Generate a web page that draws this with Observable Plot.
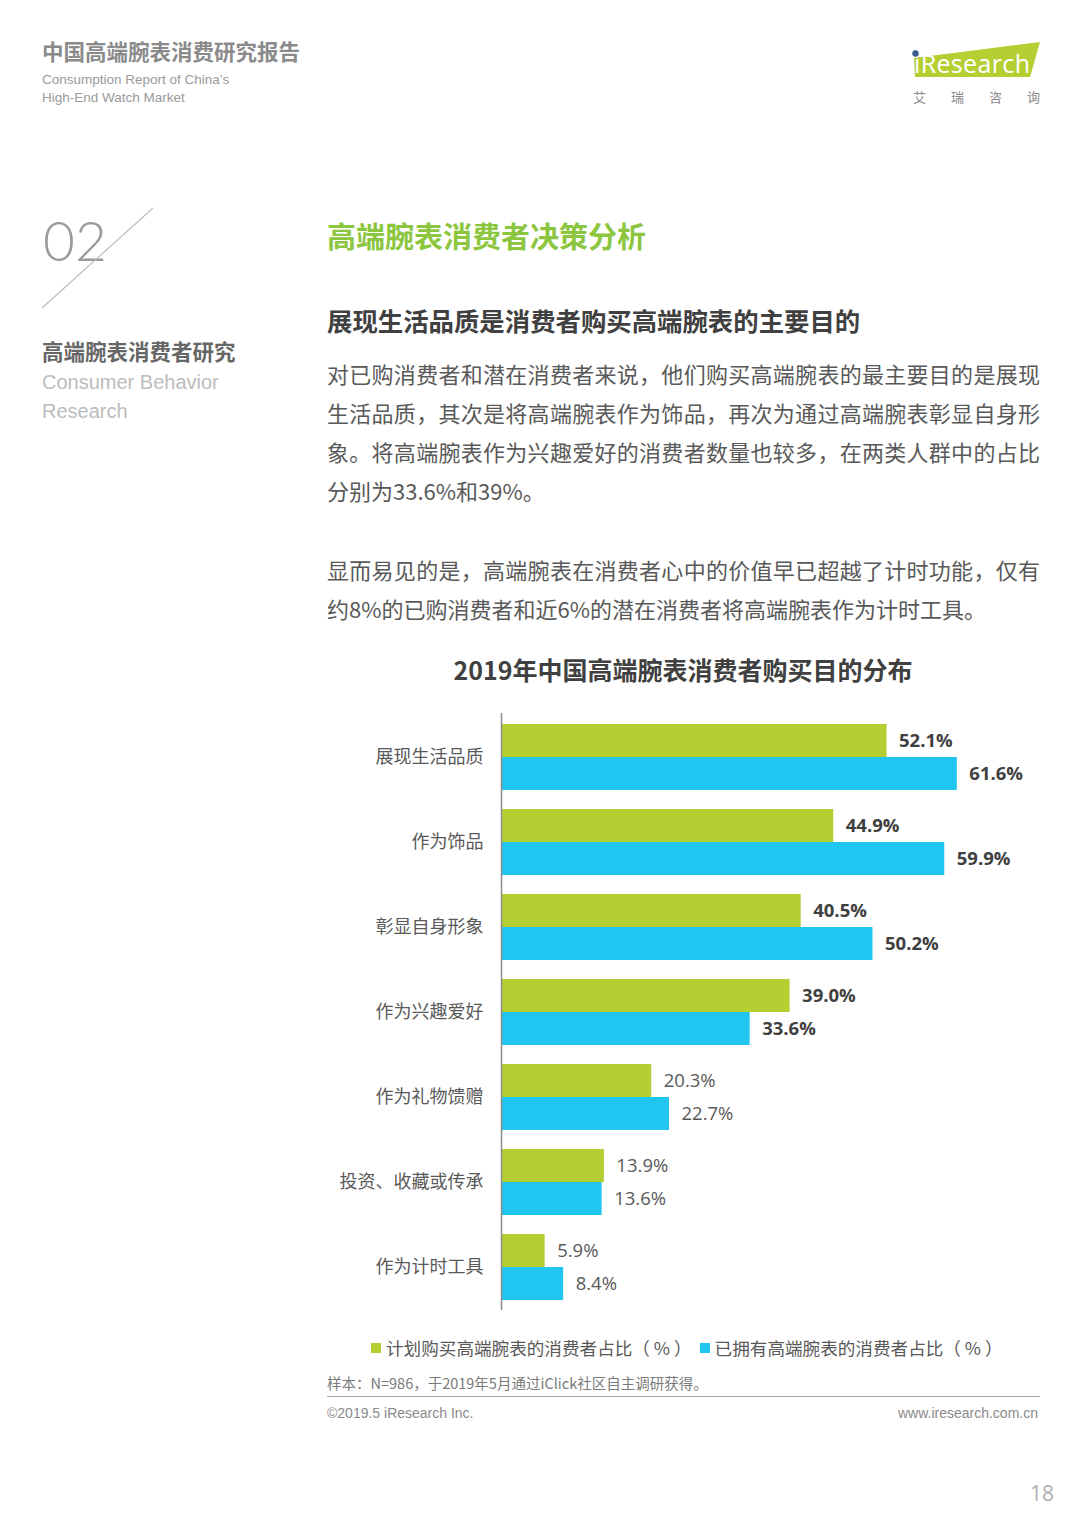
<!DOCTYPE html>
<html>
<head>
<meta charset="utf-8">
<script src="https://cdn.jsdelivr.net/npm/d3@7"></script>
<script src="https://cdn.jsdelivr.net/npm/@observablehq/plot@0.6"></script>
<style>
  html, body { margin: 0; padding: 0; background: #fff; }
  body { width: 1080px; height: 1528px; position: relative; overflow: hidden;
         font-family: "Noto Sans CJK SC", "Noto Sans", sans-serif; }
  .abs { position: absolute; white-space: nowrap; }
  .para { position: absolute; left: 327px; width: 713px; font-size: 22px; line-height: 39px; color: #595959; }
  .para .ln { display: block; height: 39px; text-align: justify; text-align-last: justify; }
  .para .ln.last { text-align-last: left; }
  #legend { position: absolute; top: 1335px; left: 371px; display: flex; white-space: nowrap; font-size: 17.6px; color: #595959; }
  #legend span.sw { display: inline-block; width: 10px; height: 10px; margin-right: 5px; vertical-align: middle; position: relative; top: -2px; }
  #legend span.item + span.item { margin-left: 8px; }
  #chart { position: absolute; left: 0; top: 700px; }
</style>
</head>
<body>
<!-- header -->
<div class="abs" style="left:42px; top:35px; font-size:21.5px; font-weight:700; color:#8a8a8a;">中国高端腕表消费研究报告</div>
<div class="abs" style="left:42px; top:71px; font-size:13.5px; color:#9a9a9a; font-family:'Liberation Sans', Arial, sans-serif; line-height:18px;">Consumption Report of China’s<br>High-End Watch Market</div>

<!-- logo -->
<svg class="abs" style="left:900px; top:36px;" width="160" height="75" viewBox="0 0 160 75">
  <polygon points="14,22 140,6 130,41 15,41" fill="#b5cf33"/>
  <circle cx="15.5" cy="17.5" r="3.2" fill="#3b5b8f"/>
  <text x="14" y="37" font-family="Open Sans, sans-serif" font-size="25" fill="#fff" textLength="116">ıResearch</text>
  <text x="13" y="66" font-family="Noto Sans CJK SC" font-size="13" fill="#8a8a8a">艾</text>
  <text x="51" y="66" font-family="Noto Sans CJK SC" font-size="13" fill="#8a8a8a">瑞</text>
  <text x="89" y="66" font-family="Noto Sans CJK SC" font-size="13" fill="#8a8a8a">咨</text>
  <text x="127" y="66" font-family="Noto Sans CJK SC" font-size="13" fill="#8a8a8a">询</text>
</svg>

<!-- sidebar -->
<div class="abs" style="left:43px; top:205px; font-size:55px; font-weight:300; color:#9a9a9a; font-family:'Lato', 'Open Sans', sans-serif; line-height:70px;">02</div>
<svg class="abs" style="left:40px; top:206px;" width="116" height="104"><line x1="113" y1="2" x2="2" y2="102" stroke="#bdbdbd" stroke-width="1.2"/></svg>
<div class="abs" style="left:42px; top:335px; font-size:21.5px; font-weight:700; color:#666;">高端腕表消费者研究</div>
<div class="abs" style="left:42px; top:368px; font-size:20px; color:#bcbcbc; font-family:'Liberation Sans', Arial, sans-serif; line-height:29px;">Consumer Behavior<br>Research</div>

<!-- titles -->
<div class="abs" style="left:327px; top:214px; font-size:29px; font-weight:700; color:#8cc63f;">高端腕表消费者决策分析</div>
<div class="abs" style="left:327px; top:302px; font-size:25.4px; font-weight:700; color:#404040;">展现生活品质是消费者购买高端腕表的主要目的</div>

<div class="para" style="top:354px;">
  <span class="ln">对已购消费者和潜在消费者来说，他们购买高端腕表的最主要目的是展现</span>
  <span class="ln">生活品质，其次是将高端腕表作为饰品，再次为通过高端腕表彰显自身形</span>
  <span class="ln">象。将高端腕表作为兴趣爱好的消费者数量也较多，在两类人群中的占比</span>
  <span class="ln last">分别为33.6%和39%。</span>
</div>
<div class="para" style="top:550px;">
  <span class="ln">显而易见的是，高端腕表在消费者心中的价值早已超越了计时功能，仅有</span>
  <span class="ln last">约8%的已购消费者和近6%的潜在消费者将高端腕表作为计时工具。</span>
</div>

<div class="abs" style="left:0; width:1366px; text-align:center; top:651px; font-size:25px; font-weight:700; color:#404040;">2019年中国高端腕表消费者购买目的分布</div>

<div id="chart"></div>
<div id="legend"></div>

<div class="abs" style="left:327px; top:1372px; font-size:14.5px; color:#7a7a7a;">样本：N=986，于2019年5月通过iClick社区自主调研获得。</div>
<div class="abs" style="left:327px; top:1396px; width:713px; height:0; border-top:1.5px solid #a8a8a8;"></div>
<div class="abs" style="left:327px; top:1405px; font-size:14px; color:#8a8a8a; font-family:'Liberation Sans', Arial, sans-serif;">©2019.5 iResearch Inc.</div>
<div class="abs" style="right:42px; top:1405px; font-size:14px; color:#8a8a8a; font-family:'Liberation Sans', Arial, sans-serif;">www.iresearch.com.cn</div>
<div class="abs" style="right:26px; top:1479px; font-size:21px; color:#b0b0b0; font-family:'Open Sans', sans-serif;">18</div>

<script>
// ---- data ----
const categories = ["展现生活品质", "作为饰品", "彰显自身形象", "作为兴趣爱好", "作为礼物馈赠", "投资、收藏或传承", "作为计时工具"];
const planned = [52.1, 44.9, 40.5, 39.0, 20.3, 13.9, 5.9];
const owned   = [61.6, 59.9, 50.2, 33.6, 22.7, 13.6, 8.4];
const seriesNames = ["计划购买高端腕表的消费者占比（ % ）", "已拥有高端腕表的消费者占比（ % ）"];
const seriesColors = ["#b5cf33", "#20c5f0"];
const boldCount = 4; // first four groups have bold value labels

const rows = [];
categories.forEach((c, i) => {
  rows.push({category: c, series: 0, value: planned[i], bold: i < boldCount});
  rows.push({category: c, series: 1, value: owned[i], bold: i < boldCount});
});
const green = rows.filter(d => d.series === 0);
const blue = rows.filter(d => d.series === 1);
const fmt = d => d.value.toFixed(1) + "%";
const half = 33;
const numFont = "'Open Sans', sans-serif";

const plot = Plot.plot({
  width: 1080,
  height: 620,
  marginLeft: 501,
  marginRight: 61,
  marginTop: 13,
  marginBottom: 10,
  style: {fontFamily: "'Noto Sans CJK SC', sans-serif", fontSize: "18px", color: "#595959", background: "transparent"},
  x: {domain: [0, 70], axis: null},
  y: {domain: categories, paddingInner: 0.2266, paddingOuter: 0.117, label: null},
  marks: [
    Plot.barX(green, {x: "value", y: "category", fill: seriesColors[0], insetBottom: half}),
    Plot.barX(blue, {x: "value", y: "category", fill: seriesColors[1], insetTop: half}),
    Plot.ruleX([0], {stroke: "#8c8c8c", strokeWidth: 1.5}),
    Plot.axisY({tickSize: 0, tickPadding: 18, fontSize: 18, label: null}),
    Plot.text(green.filter(d => d.bold), {x: "value", y: "category", text: fmt, dx: 12, dy: -16.5, textAnchor: "start", fontWeight: 700, fill: "#404040", fontSize: 18.5, fontFamily: numFont}),
    Plot.text(blue.filter(d => d.bold), {x: "value", y: "category", text: fmt, dx: 12, dy: 16.5, textAnchor: "start", fontWeight: 700, fill: "#404040", fontSize: 18.5, fontFamily: numFont}),
    Plot.text(green.filter(d => !d.bold), {x: "value", y: "category", text: fmt, dx: 12, dy: -16.5, textAnchor: "start", fill: "#595959", fontSize: 18.5, fontFamily: numFont}),
    Plot.text(blue.filter(d => !d.bold), {x: "value", y: "category", text: fmt, dx: 12, dy: 16.5, textAnchor: "start", fill: "#595959", fontSize: 18.5, fontFamily: numFont})
  ]
});
document.getElementById("chart").appendChild(plot);

const legend = document.getElementById("legend");
seriesNames.forEach((name, i) => {
  const item = document.createElement("span");
  item.className = "item";
  const sw = document.createElement("span");
  sw.className = "sw";
  sw.style.background = seriesColors[i];
  item.appendChild(sw);
  item.appendChild(document.createTextNode(name));
  legend.appendChild(item);
});
</script>
</body>
</html>
